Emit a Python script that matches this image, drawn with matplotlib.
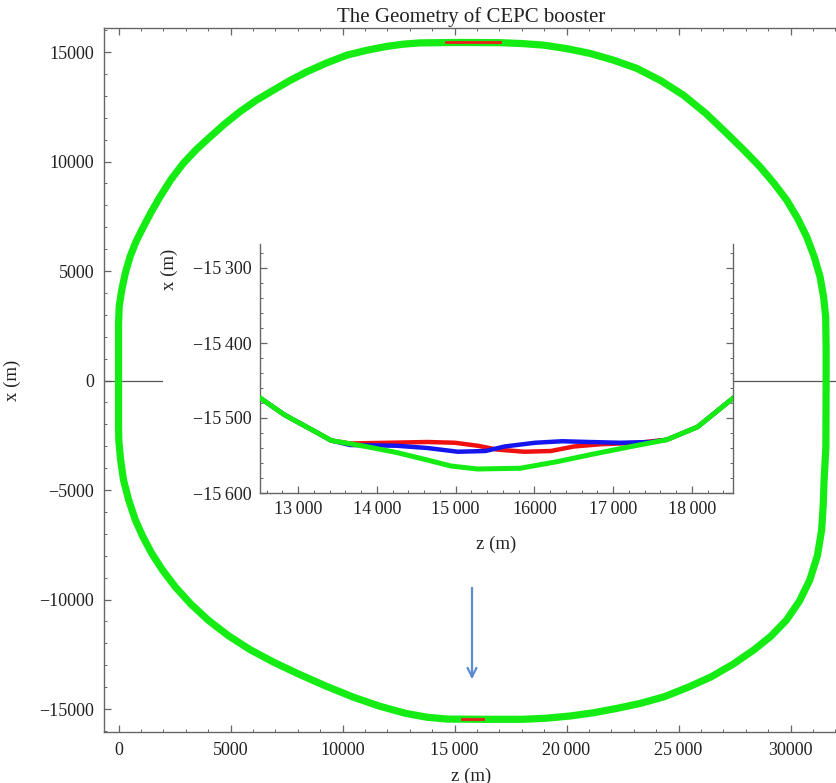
import matplotlib
matplotlib.use('Agg')
import matplotlib.pyplot as plt
from matplotlib.patches import Rectangle
from matplotlib.ticker import MultipleLocator, FixedLocator

plt.rcParams['font.family'] = ['Liberation Serif', 'DejaVu Serif']

# ring trace (z, x in metres)
ring_z = [0, 0, 30, 140, 300, 510, 780, 1110, 1460, 1850,
          2340, 2890, 3470, 4090, 4740, 5420, 6150, 6910, 7650, 8400,
          9280, 10190, 11070, 11970, 12700, 13460, 15200, 17030, 18000, 18960,
          20000, 21050, 22100, 23130, 24200, 25210, 26220, 27150, 27920, 28640,
          29260, 29830, 30310, 30720, 31060, 31320, 31480, 31570, 31590, 31590,
          31580, 31540, 31500, 31460, 31390, 31200, 30860, 30400, 29820, 29120,
          28350, 27440, 26460, 25420, 24360, 23310, 22260, 21210, 20160, 19100,
          18060, 16300, 14700, 13800, 12820, 11650, 10510, 9250, 7990, 6920,
          5890, 4900, 4000, 3220, 2530, 1960, 1480, 1080, 750, 450,
          220, 90, 10, 0, 0]
ring_x = [0, 2600, 3400, 4130, 4900, 5650, 6350, 7020, 7700, 8390,
          9180, 9920, 10550, 11130, 11720, 12280, 12800, 13260, 13700, 14100,
          14500, 14860, 15080, 15260, 15360, 15420, 15440, 15430, 15390, 15320,
          15160, 14940, 14630, 14260, 13700, 13040, 12200, 11290, 10520, 9760,
          9010, 8240, 7420, 6570, 5650, 4740, 3800, 2910, 1500, 0,
          -3000, -3800, -4540, -5700, -6830, -8000, -9110, -10070, -10940, -11680,
          -12310, -12950, -13530, -14010, -14440, -14740, -14970, -15170, -15320, -15420,
          -15470, -15470, -15460, -15380, -15200, -14870, -14470, -13950, -13380, -12860,
          -12300, -11650, -10940, -10200, -9420, -8650, -7890, -7120, -6370, -5450,
          -4540, -3600, -2720, -2000, 0]

# bits of the red orbit that show over the green band
red_top_z = [14600, 17030]
red_top_x = [15440, 15440]
red_bot_z = [15340, 16280]
red_bot_x = [-15465, -15465]

# inset: bottom straight section
ins_green_z = [12500, 12830, 13180, 13420, 13860, 14250, 14640, 14940, 15280, 15820,
               16300, 16750, 17230, 17680, 18070, 18540]
ins_green_x = [-15472, -15496, -15516, -15530, -15538, -15546, -15556, -15564, -15568, -15567,
               -15558, -15548, -15538, -15529, -15512, -15472]
ins_red_z = [12500, 12830, 13180, 13420, 13660, 14150, 14640, 14990, 15280, 15520,
             15870, 16210, 16500, 16840, 17330, 17580, 17680, 18070, 18540]
ins_red_x = [-15472, -15496, -15516, -15530, -15534, -15533, -15532, -15533, -15537, -15542,
             -15545, -15544, -15538, -15535, -15533, -15530, -15529, -15512, -15472]
ins_blue_z = [12500, 12830, 13180, 13420, 13660, 14250, 14640, 15030, 15380, 15620,
              16010, 16350, 16700, 17090, 17480, 17680, 18070, 18540]
ins_blue_x = [-15472, -15496, -15516, -15530, -15536, -15537, -15540, -15545, -15544, -15538,
              -15533, -15531, -15532, -15533, -15532, -15529, -15512, -15472]

main_xticks = [0, 5000, 10000, 15000, 20000, 25000, 30000]
main_xlabels = ['0', '5000', '10000', '15\u2009000', '20\u2009000', '25\u2009000', '30000']
main_yticks = [-15000, -10000, -5000, 0, 5000, 10000, 15000]
main_ylabels = ['\u221215000', '\u221210000', '\u22125000', '0', '5000', '10000', '15000']
ins_xticks = [13000, 14000, 15000, 16000, 17000, 18000]
ins_xlabels = ['13\u2009000', '14\u2009000', '15\u2009000', '16000', '17\u2009000', '18\u2009000']
ins_yticks = [-15600, -15500, -15400, -15300]
ins_ylabels = ['\u221215\u2009600', '\u221215\u2009500', '\u221215\u2009400', '\u221215\u2009300']

green = '#14ec14'
spine_c = '#666666'
txt_c = '#222222'
W, H = 837, 783

fig = plt.figure(figsize=(8.37, 7.83), dpi=100)
ax = fig.add_axes([104 / W, 51 / H, (846.5 - 104) / W, (755 - 51) / H])

ax.plot(ring_z, ring_x, color=green, lw=5.2, solid_joinstyle='round', solid_capstyle='round', zorder=3)
ax.plot(red_top_z, red_top_x, color='#e8201c', lw=2, zorder=4)
ax.plot(red_bot_z, red_bot_x, color='#e8201c', lw=2, zorder=4)
ax.axhline(0, color='#555555', lw=0.9, zorder=2)

ax.set_xlim(-650, 32500)
ax.set_ylim(-16050, 16100)
ax.xaxis.set_major_locator(FixedLocator(main_xticks))
ax.set_xticklabels(main_xlabels)
ax.yaxis.set_major_locator(FixedLocator(main_yticks))
ax.set_yticklabels(main_ylabels)
ax.xaxis.set_minor_locator(MultipleLocator(1000))
ax.yaxis.set_minor_locator(MultipleLocator(1000))
ax.tick_params(which='both', direction='in', top=True, right=True, colors=spine_c,
               labelcolor=txt_c, labelsize=13)
ax.tick_params(which='major', length=5, width=0.9, pad=7)
ax.tick_params(which='minor', length=2.5, width=0.7)
for s in ax.spines.values():
    s.set_color(spine_c)
    s.set_linewidth(1.0)
ax.set_title('The Geometry of CEPC booster', fontsize=15, pad=4, color=txt_c,
             x=(471 - 104) / (846.5 - 104))
ax.set_xlabel('z (m)', fontsize=13.5, color=txt_c)
ax.xaxis.set_label_coords((471 - 104) / (846.5 - 104), -0.05)
ax.set_ylabel('x (m)', fontsize=13.5, color=txt_c)
ax.yaxis.set_label_coords(-0.112, 0.5)

# arrow pointing down at the straight section shown in the inset
ax.annotate('', xy=(15780, -13770), xytext=(15780, -9340),
            arrowprops=dict(arrowstyle='->', color='#5b8ccf', lw=1.6, mutation_scale=16))

# white box behind the inset (hides the x = 0 axis line)
ax.add_patch(Rectangle((163 / W, 1 - 548 / H), (733 - 163) / W, (548 - 236) / H,
                       transform=fig.transFigure, facecolor='white', edgecolor='none',
                       zorder=5))

# inset
ai = fig.add_axes([260.3 / W, 1 - 493 / H, (732.9 - 260.3) / W, (493 - 244) / H])
ai.plot(ins_red_z, ins_red_x, color='#f01010', lw=3.2, zorder=2)
ai.plot(ins_blue_z, ins_blue_x, color='#1515f0', lw=3.2, zorder=3)
ai.plot(ins_green_z, ins_green_x, color=green, lw=3.6, zorder=4)
ai.set_xlim(12520, 18520)
ai.set_ylim(-15600, -15268)
ai.xaxis.set_major_locator(FixedLocator(ins_xticks))
ai.set_xticklabels(ins_xlabels)
ai.yaxis.set_major_locator(FixedLocator(ins_yticks))
ai.set_yticklabels(ins_ylabels)
ai.xaxis.set_minor_locator(MultipleLocator(200))
ai.yaxis.set_minor_locator(MultipleLocator(20))
ai.spines['top'].set_visible(False)
for k in ['left', 'right', 'bottom']:
    ai.spines[k].set_color(spine_c)
    ai.spines[k].set_linewidth(1.0)
ai.tick_params(which='both', direction='in', right=True, top=False, colors=spine_c,
               labelcolor=txt_c, labelsize=13)
ai.tick_params(which='major', length=5, width=0.9, pad=6)
ai.tick_params(which='minor', length=2.5, width=0.7)
ai.set_xlabel('z (m)', fontsize=13.5, color=txt_c)
ai.xaxis.set_label_coords(0.5, -0.17)
ai.set_ylabel('x (m)', fontsize=13.5, color=txt_c)
ai.yaxis.set_label_coords(-0.175, 0.9)

fig.savefig('out.png', dpi=100)
